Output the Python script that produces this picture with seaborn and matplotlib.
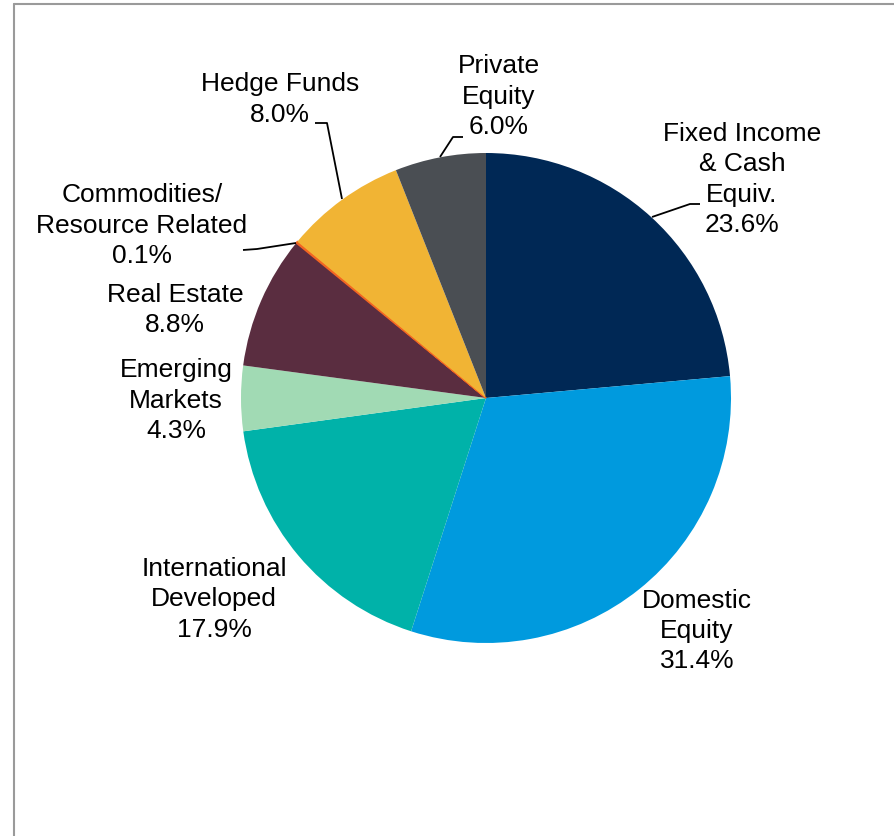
import matplotlib
matplotlib.use("Agg")
import matplotlib.pyplot as plt
import seaborn as sns
from matplotlib.lines import Line2D

# 资产配置数据（顺时针，从12点方向开始）
labels = ["Fixed Income\n& Cash\nEquiv.", "Domestic\nEquity", "International\nDeveloped",
          "Emerging\nMarkets", "Real Estate", "Commodities/\nResource Related",
          "Hedge Funds", "Private\nEquity"]
shares = [23.6, 31.4, 17.9, 4.3, 8.8, 0.1, 8.0, 6.0]
colors = ["#002855", "#009ADE", "#00B2A9", "#A1DAB4", "#5A2D40", "#F26522", "#F1B434", "#4A4E53"]

# 标签位置（数据坐标，饼半径 = 1）
label_pos = [(1.045, 0.892), (0.861, -0.951), (-1.110, -0.822), (-1.265, -0.012),
             (-1.269, 0.359), (-1.404, 0.704), (-0.841, 1.218), (0.053, 1.229)]

# 引导线（像素坐标）
leaders = {
    0: [(700, 204), (690, 204), (652, 217)],
    5: [(243, 250), (257, 249), (296, 243)],
    6: [(315, 123), (327, 123), (342, 199)],
    7: [(463, 137), (453, 137), (440, 157)],
}

sns.set_theme(style="white")
plt.rcParams['font.family'] = ['Liberation Sans', 'DejaVu Sans']

W, H = 895, 836
cx, cy, R = 486, 398, 245
fig = plt.figure(figsize=(W / 100, H / 100), dpi=100)
ax = fig.add_axes([0, 0, 1, 1])

wedges, _ = ax.pie(shares, colors=sns.color_palette(colors), startangle=90, counterclock=False,
                   radius=1, wedgeprops=dict(linewidth=0))
# 0.1% 的扇区太细，加一点描边让它可见
wedges[5].set_edgecolor(colors[5])
wedges[5].set_linewidth(1.2)
ax.set_aspect('auto')
ax.set_xlim(-cx / R, (W - cx) / R)
ax.set_ylim((cy - H) / R, cy / R)
ax.axis('off')

for lab, val, (x, y) in zip(labels, shares, label_pos):
    ax.text(x, y, f"{lab}\n{val:.1f}%", ha='center', va='center', multialignment='center',
            fontsize=19, color='black', linespacing=1.34)

for pts in leaders.values():
    xs = [(p[0] - cx) / R for p in pts]
    ys = [(cy - p[1]) / R for p in pts]
    ax.plot(xs, ys, color='black', lw=1.3, solid_capstyle='butt')

# 外框（左、上）
fig.add_artist(Line2D([14 / W, 1], [1 - 4 / H, 1 - 4 / H], color='#9a9a9a', lw=1.5))
fig.add_artist(Line2D([14 / W, 14 / W], [0, 1 - 4 / H], color='#9a9a9a', lw=1.5))

fig.savefig("out.png", dpi=100)
